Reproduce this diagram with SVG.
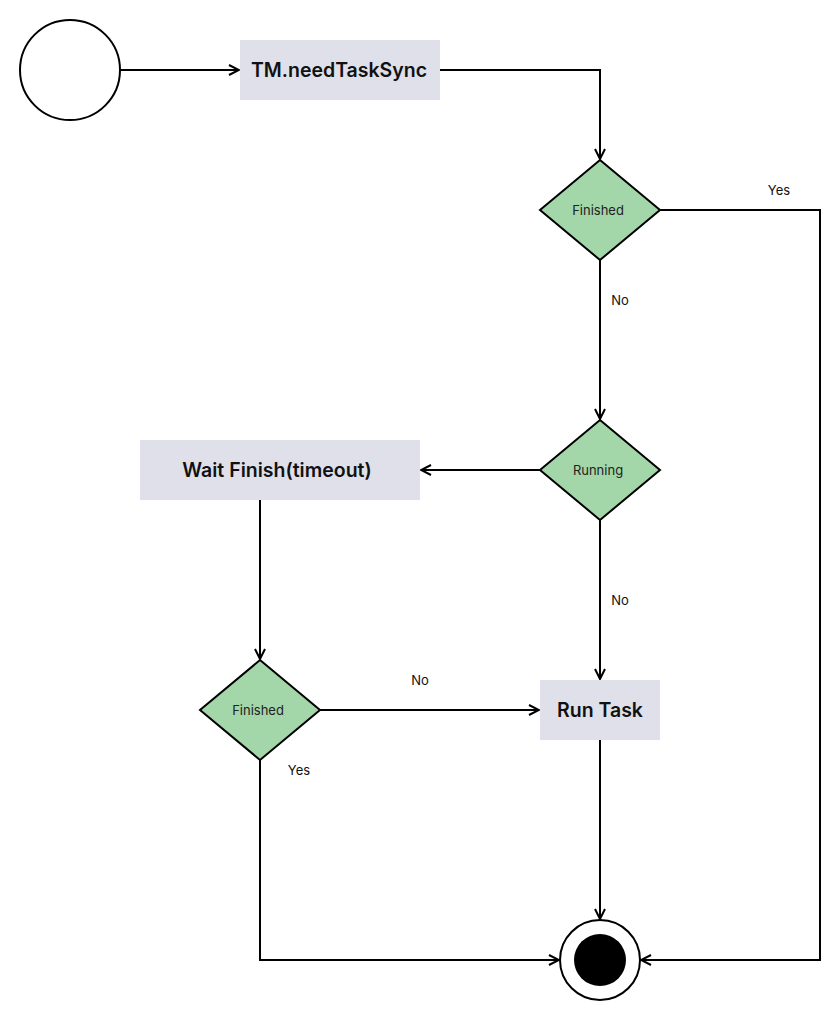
<svg xmlns="http://www.w3.org/2000/svg" width="840" height="1020" viewBox="0 0 840 1020">
<defs>
<marker id="arr" viewBox="0 0 12 12" refX="11" refY="6" markerWidth="12" markerHeight="12" markerUnits="userSpaceOnUse" orient="auto">
<path d="M1,1 L11,6 L1,11" fill="none" stroke="#000" stroke-width="2"/>
</marker>
<style>
.box{fill:#e0e0ea;}
.dia{fill:#a3d6a9;stroke:#000;stroke-width:2;}
.bt{font-family:Inter,"Liberation Sans",sans-serif;font-size:19.5px;font-weight:600;fill:#111;text-anchor:middle;dominant-baseline:central;}
.dt{font-family:Inter,"Liberation Sans",sans-serif;font-size:13px;fill:#222;text-anchor:middle;dominant-baseline:central;}
.lt{font-family:Inter,"Liberation Sans",sans-serif;font-size:13px;fill:#111;text-anchor:middle;dominant-baseline:central;}
.ca{fill:none;stroke:#000;stroke-width:2;marker-end:url(#arr);}
</style>
</defs>
<rect width="840" height="1020" fill="#fff"/>
<g id="connectors">
<path class="ca" d="M120,70 L239,70"/>
<path class="ca" d="M440,70 L600,70 L600,159"/>
<path class="ca" d="M660,210 L820,210 L820,960 L641,960"/>
<path class="ca" d="M600,260 L600,419"/>
<path class="ca" d="M540,470 L421,470"/>
<path class="ca" d="M600,520 L600,679"/>
<path class="ca" d="M260,500 L260,659"/>
<path class="ca" d="M320,710 L539,710"/>
<path class="ca" d="M260,760 L260,960 L559,960"/>
<path class="ca" d="M600,740 L600,919"/>
<text class="lt" x="779" y="190">Yes</text>
<text class="lt" x="620" y="300">No</text>
<text class="lt" x="620" y="600">No</text>
<text class="lt" x="420" y="680">No</text>
<text class="lt" x="299" y="770">Yes</text>
</g>
<g id="start">
<circle cx="70" cy="70" r="50" fill="#fff" stroke="#000" stroke-width="2"/>
</g>
<g id="needTaskSync">
<rect class="box" x="240" y="40" width="200" height="60"/>
<text class="bt" x="339" y="70">TM.needTaskSync</text>
</g>
<g id="finished1">
<path class="dia" d="M600,160 L660,210 L600,260 L540,210 Z"/>
<text class="dt" x="598" y="210">Finished</text>
</g>
<g id="running">
<path class="dia" d="M600,420 L660,470 L600,520 L540,470 Z"/>
<text class="dt" x="598" y="470">Running</text>
</g>
<g id="waitFinish">
<rect class="box" x="140" y="440" width="280" height="60"/>
<text class="bt" x="277" y="470">Wait Finish(timeout)</text>
</g>
<g id="finished2">
<path class="dia" d="M260,660 L320,710 L260,760 L200,710 Z"/>
<text class="dt" x="258" y="710">Finished</text>
</g>
<g id="runTask">
<rect class="box" x="540" y="680" width="120" height="60"/>
<text class="bt" x="600" y="710">Run Task</text>
</g>
<g id="end">
<circle cx="600" cy="960" r="40" fill="#fff" stroke="#000" stroke-width="2"/>
<circle cx="600" cy="960" r="26" fill="#000"/>
</g>
</svg>
